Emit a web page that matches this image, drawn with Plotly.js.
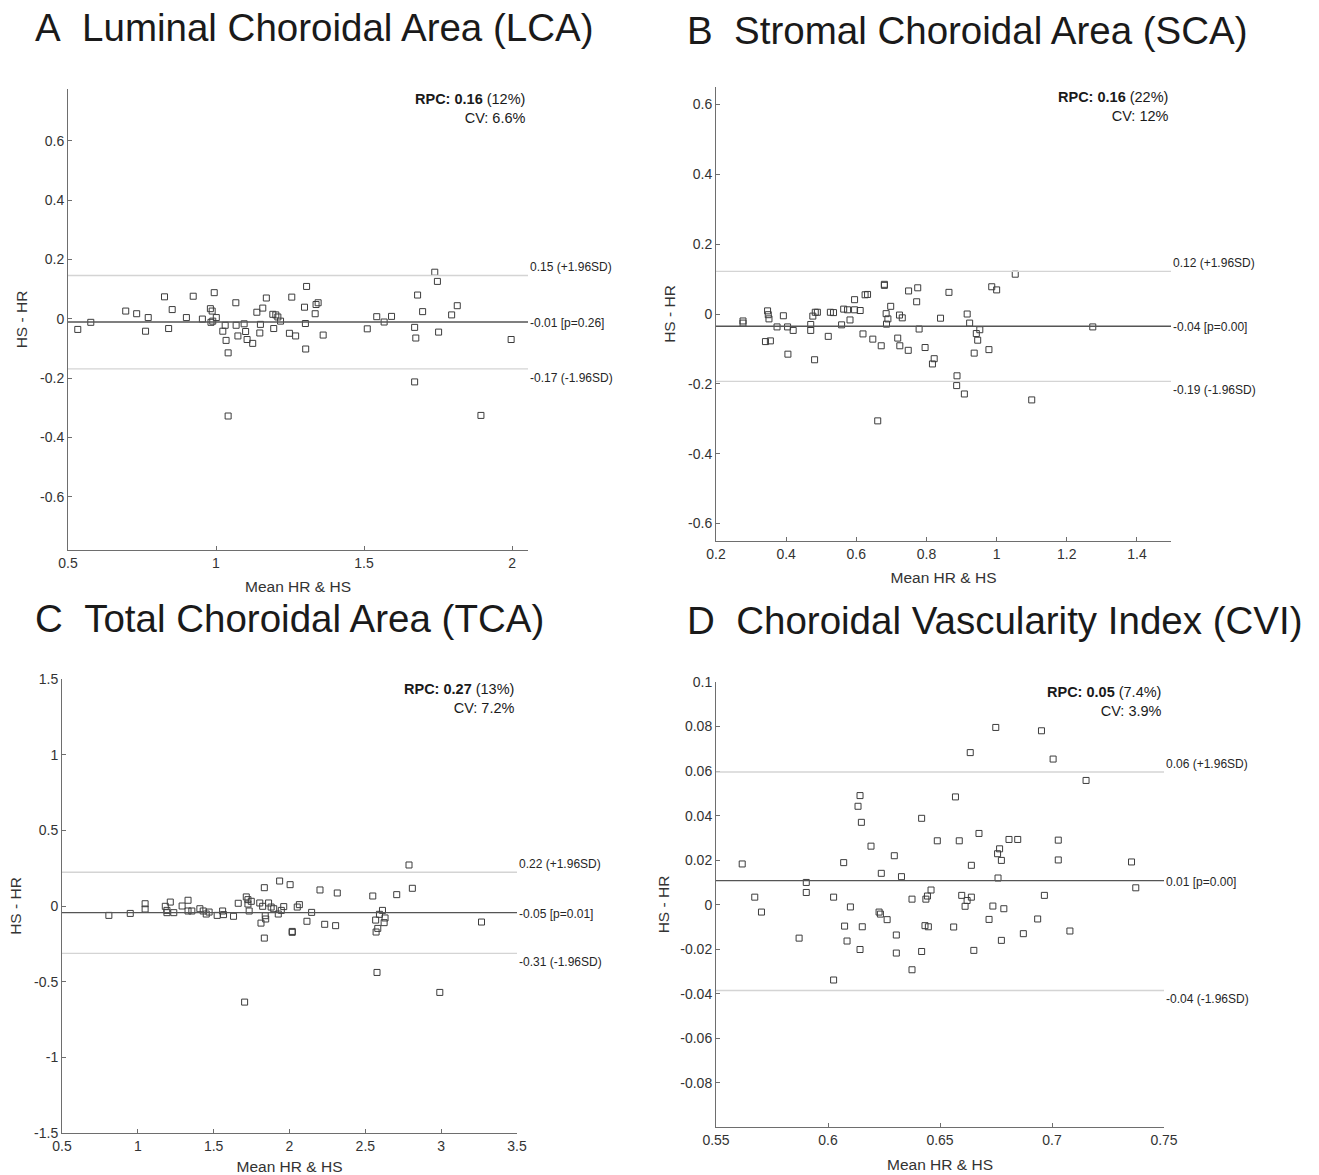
<!DOCTYPE html>
<html><head><meta charset="utf-8">
<script src="https://cdn.plot.ly/plotly-3.0.1.min.js"></script>
<style>html,body{margin:0;padding:0;background:#fff}</style>
</head><body><div id="chart" style="width:1319px;height:1175px"></div>
<script>
// ---- Data ----
const lcaMean = [0.533,0.577,0.695,0.732,0.771,0.762,0.826,0.840,0.852,0.900,0.923,0.954,0.981,0.987,0.994,1.001,0.983,0.989,1.023,1.031,1.034,1.041,1.041,1.067,1.068,1.074,1.095,1.100,1.105,1.124,1.138,1.158,1.170,1.150,1.148,1.192,1.202,1.209,1.218,1.195,1.248,1.256,1.269,1.299,1.306,1.302,1.303,1.338,1.345,1.335,1.362,1.511,1.543,1.568,1.593,1.671,1.675,1.671,1.681,1.698,1.739,1.748,1.752,1.796,1.815,1.895,1.997];
const lcaDiff = [-0.036,-0.012,0.026,0.017,0.004,-0.042,0.074,-0.033,0.031,0.004,0.076,-0.001,0.034,0.026,0.088,0.004,-0.012,-0.008,-0.042,-0.022,-0.073,-0.115,-0.328,0.054,-0.022,-0.058,-0.017,-0.043,-0.070,-0.083,0.022,0.036,0.070,-0.019,-0.048,0.015,0.013,0.006,-0.008,-0.033,-0.049,0.073,-0.058,0.039,0.109,-0.016,-0.102,0.048,0.054,0.017,-0.055,-0.034,0.007,-0.011,0.008,-0.029,-0.065,-0.213,0.080,0.024,0.157,0.126,-0.045,0.013,0.044,-0.326,-0.070];

const scaMean = [0.277,0.277,0.347,0.349,0.351,0.341,0.355,0.374,0.392,0.404,0.405,0.420,0.470,0.470,0.476,0.481,0.483,0.489,0.520,0.526,0.535,0.558,0.564,0.575,0.582,0.595,0.595,0.611,0.619,0.625,0.632,0.647,0.661,0.671,0.680,0.680,0.685,0.686,0.690,0.698,0.718,0.723,0.724,0.731,0.748,0.749,0.772,0.775,0.779,0.796,0.817,0.822,0.840,0.864,0.887,0.886,0.908,0.916,0.923,0.936,0.942,0.946,0.952,0.978,0.986,1.000,1.053,1.100,1.274];
const scaDiff = [-0.020,-0.026,0.009,-0.002,-0.014,-0.079,-0.077,-0.037,-0.005,-0.037,-0.115,-0.047,-0.030,-0.047,-0.006,-0.131,0.005,0.005,-0.064,0.005,0.004,-0.031,0.014,0.012,-0.017,0.041,0.012,0.010,-0.057,0.055,0.056,-0.072,-0.306,-0.091,0.085,0.082,0.001,-0.029,-0.014,0.022,-0.069,-0.003,-0.091,-0.011,-0.104,0.066,0.035,0.075,-0.043,-0.096,-0.143,-0.128,-0.012,0.062,-0.177,-0.205,-0.229,0.000,-0.026,-0.112,-0.056,-0.075,-0.045,-0.102,0.078,0.069,0.114,-0.246,-0.037];

const tcaMean = [0.809,0.950,1.048,1.048,1.181,1.192,1.192,1.214,1.237,1.292,1.331,1.331,1.356,1.409,1.431,1.451,1.470,1.523,1.559,1.565,1.631,1.662,1.704,1.715,1.726,1.726,1.734,1.748,1.804,1.812,1.823,1.834,1.834,1.840,1.843,1.862,1.879,1.896,1.926,1.935,1.946,1.962,2.004,2.018,2.018,2.051,2.065,2.115,2.146,2.201,2.232,2.304,2.315,2.549,2.568,2.571,2.577,2.582,2.593,2.613,2.624,2.630,2.707,2.810,2.788,2.991,3.266];
const tcaDiff = [-0.062,-0.049,0.015,-0.020,-0.002,-0.029,-0.044,0.026,-0.044,0.000,0.038,-0.033,-0.033,-0.018,-0.033,-0.053,-0.040,-0.062,-0.033,-0.057,-0.068,0.018,-0.635,0.060,0.042,0.013,-0.033,0.031,0.020,-0.113,-0.002,0.121,-0.212,-0.064,-0.086,0.020,-0.007,-0.018,-0.053,0.165,-0.029,-0.004,0.141,-0.168,-0.174,-0.007,0.009,-0.101,-0.042,0.106,-0.121,-0.130,0.086,0.066,-0.093,-0.172,-0.439,-0.148,-0.055,-0.029,-0.110,-0.079,0.075,0.117,0.271,-0.571,-0.106];

const cviMean = [0.5617,0.5673,0.5703,0.5871,0.5903,0.5903,0.6025,0.6025,0.6070,0.6074,0.6085,0.6100,0.6134,0.6143,0.6149,0.6143,0.6153,0.6192,0.6228,0.6234,0.6238,0.6264,0.6296,0.6305,0.6305,0.6328,0.6375,0.6375,0.6418,0.6418,0.6433,0.6437,0.6444,0.6448,0.6460,0.6488,0.6561,0.6569,0.6586,0.6597,0.6612,0.6621,0.6635,0.6640,0.6640,0.6651,0.6674,0.6719,0.6736,0.6749,0.6757,0.6759,0.6766,0.6774,0.6774,0.6785,0.6808,0.6847,0.6872,0.6936,0.6953,0.6966,0.7005,0.7028,0.7028,0.7080,0.7152,0.7355,0.7374];
const cviDiff = [0.0183,0.0034,-0.0033,-0.0150,0.0100,0.0055,0.0034,-0.0338,0.0189,-0.0096,-0.0163,-0.0010,0.0442,0.0490,0.0370,-0.0201,-0.0099,0.0263,-0.0033,-0.0042,0.0141,-0.0067,0.0220,-0.0136,-0.0217,0.0126,0.0025,-0.0292,0.0388,-0.0210,-0.0094,0.0025,0.0039,-0.0099,0.0066,0.0287,-0.0100,0.0484,0.0287,0.0042,-0.0007,0.0019,0.0683,0.0177,0.0034,-0.0205,0.0320,-0.0066,-0.0006,0.0796,0.0229,0.0120,0.0251,0.0199,-0.0160,-0.0018,0.0293,0.0293,-0.0130,-0.0064,0.0781,0.0042,0.0654,0.0290,0.0201,-0.0118,0.0558,0.0192,0.0076];

const panelTitles = ['A\u00a0\u00a0Luminal Choroidal Area (LCA)','B\u00a0\u00a0Stromal Choroidal Area (SCA)','C\u00a0\u00a0Total Choroidal Area (TCA)','D\u00a0\u00a0Choroidal Vascularity Index (CVI)'];
const meanBias = [-0.011,-0.035,-0.044,0.0108];
const upperLoA = [0.146,0.122,0.223,0.0596];
const lowerLoA = [-0.169,-0.193,-0.313,-0.0385];
const meanLabels = ['-0.01 [p=0.26]','-0.04 [p=0.00]','-0.05 [p=0.01]','0.01 [p=0.00]'];
const upperLabels = ['0.15 (+1.96SD)','0.12 (+1.96SD)','0.22 (+1.96SD)','0.06 (+1.96SD)'];
const lowerLabels = ['-0.17 (-1.96SD)','-0.19 (-1.96SD)','-0.31 (-1.96SD)','-0.04 (-1.96SD)'];
const rpcValues = ['0.16','0.16','0.27','0.05'];
const rpcPercent = ['12%','22%','13%','7.4%'];
const cvValues = ['6.6%','12%','7.2%','3.9%'];

const xTickValsA = [0.5,1,1.5,2], xTickTextA = ['0.5','1','1.5','2'];
const yTickValsA = [-0.6,-0.4,-0.2,0,0.2,0.4,0.6], yTickTextA = ['-0.6','-0.4','-0.2','0','0.2','0.4','0.6'];
const xTickValsB = [0.2,0.4,0.6,0.8,1,1.2,1.4], xTickTextB = ['0.2','0.4','0.6','0.8','1','1.2','1.4'];
const yTickValsB = [-0.6,-0.4,-0.2,0,0.2,0.4,0.6], yTickTextB = ['-0.6','-0.4','-0.2','0','0.2','0.4','0.6'];
const xTickValsC = [0.5,1,1.5,2,2.5,3,3.5], xTickTextC = ['0.5','1','1.5','2','2.5','3','3.5'];
const yTickValsC = [-1.5,-1,-0.5,0,0.5,1,1.5], yTickTextC = ['-1.5','-1','-0.5','0','0.5','1','1.5'];
const xTickValsD = [0.55,0.6,0.65,0.7,0.75], xTickTextD = ['0.55','0.6','0.65','0.7','0.75'];
const yTickValsD = [-0.08,-0.06,-0.04,-0.02,0,0.02,0.04,0.06,0.08,0.1], yTickTextD = ['-0.08','-0.06','-0.04','-0.02','0','0.02','0.04','0.06','0.08','0.1'];

// ---- Layout helpers ----
const W = 1319, H = 1175;
const panels = [
  {x: lcaMean, y: lcaDiff, xr:[0.5,2.054], yr:[-0.78,0.775], xd:[68,528], yd:[89,550], xt:[xTickValsA,xTickTextA], yt:[yTickValsA,yTickTextA], tx:33, ty:28, xs:11, ys:8},
  {x: scaMean, y: scaDiff, xr:[0.2,1.497], yr:[-0.65,0.65], xd:[716,1171], yd:[87,541], xt:[xTickValsB,xTickTextB], yt:[yTickValsB,yTickTextB], tx:685, ty:30, xs:11, ys:8},
  {x: tcaMean, y: tcaDiff, xr:[0.5,3.5], yr:[-1.5,1.5], xd:[62,517], yd:[679,1133], xt:[xTickValsC,xTickTextC], yt:[yTickValsC,yTickTextC], tx:33, ty:618, xs:8, ys:8},
  {x: cviMean, y: cviDiff, xr:[0.55,0.75], yr:[-0.0998,0.1], xd:[716,1164], yd:[682,1127], xt:[xTickValsD,xTickTextD], yt:[yTickValsD,yTickTextD], tx:685, ty:620, xs:12, ys:6}
];

const FONT = 'Liberation Sans, Arial, sans-serif';
const AXC = '#6e6e6e';
const data = [], shapes = [], annotations = [];
const layout = {width:W, height:H, margin:{l:0,r:0,t:0,b:0}, paper_bgcolor:'#fff', plot_bgcolor:'#fff', showlegend:false, font:{family:FONT, color:'#262626'}};

panels.forEach((p,i) => {
  const n = i+1;
  const xa = 'x'+(n===1?'':n), ya = 'y'+(n===1?'':n);
  const xk = 'xaxis'+(n===1?'':n), yk = 'yaxis'+(n===1?'':n);
  layout[xk] = {domain:[p.xd[0]/W, p.xd[1]/W], anchor:ya, range:p.xr, showgrid:false, zeroline:false, showline:true, linecolor:AXC, linewidth:1,
    ticks:'inside', ticklen:4, tickcolor:AXC, tickvals:p.xt[0], ticktext:p.xt[1], tickfont:{size:14, family:FONT, color:'#333'},
    title:{text:'Mean HR & HS', font:{size:15.5, family:FONT, color:'#333'}, standoff:p.xs}};
  layout[yk] = {domain:[1-p.yd[1]/H, 1-p.yd[0]/H], anchor:xa, range:p.yr, showgrid:false, zeroline:false, showline:true, linecolor:AXC, linewidth:1,
    ticks:'inside', ticklen:4, tickcolor:AXC, tickvals:p.yt[0], ticktext:p.yt[1], tickfont:{size:14, family:FONT, color:'#333'},
    title:{text:'HS - HR', font:{size:15.5, family:FONT, color:'#333'}, standoff:p.ys}};
  // limit lines
  [[upperLoA[i],'#d4d4d4'],[lowerLoA[i],'#d4d4d4'],[meanBias[i],'#555555']].forEach(([v,c]) => {
    shapes.push({type:'line', xref:xa+' domain', yref:ya, x0:0, x1:1, y0:v, y1:v, line:{color:c, width:1.4}});
  });
  data.push({type:'scatter', mode:'markers', x:p.x, y:p.y, xaxis:xa, yaxis:ya,
    marker:{symbol:'square-open', size:6, color:'#3c3c3c', line:{width:1, color:'#3c3c3c'}}, hoverinfo:'x+y'});
  const lf = {size:12, family:FONT, color:'#262626'};
  annotations.push({xref:xa+' domain', yref:ya, x:1, y:upperLoA[i], xanchor:'left', yanchor:'middle', yshift:8, text:upperLabels[i], showarrow:false, font:lf});
  annotations.push({xref:xa+' domain', yref:ya, x:1, y:meanBias[i], xanchor:'left', yanchor:'middle', yshift:-1, text:meanLabels[i], showarrow:false, font:lf});
  annotations.push({xref:xa+' domain', yref:ya, x:1, y:lowerLoA[i], xanchor:'left', yanchor:'middle', yshift:-9, text:lowerLabels[i], showarrow:false, font:lf});
  annotations.push({xref:xa+' domain', yref:ya+' domain', x:1, y:1, xanchor:'right', yanchor:'top', yshift:0, align:'right',
    text:'<b>RPC: '+rpcValues[i]+'</b> ('+rpcPercent[i]+')<br>CV: '+cvValues[i], showarrow:false, font:{size:14.5, family:FONT, color:'#1a1a1a'}});
  annotations.push({xref:'paper', yref:'paper', x:p.tx/W, y:1-p.ty/H, xanchor:'left', yanchor:'middle', text:panelTitles[i], showarrow:false,
    font:{size:38.5, family:FONT, color:'#1a1a1a'}});
});
layout.shapes = shapes;
layout.annotations = annotations;
Plotly.newPlot('chart', data, layout, {displayModeBar:false, responsive:false});
</script>
</body></html>
